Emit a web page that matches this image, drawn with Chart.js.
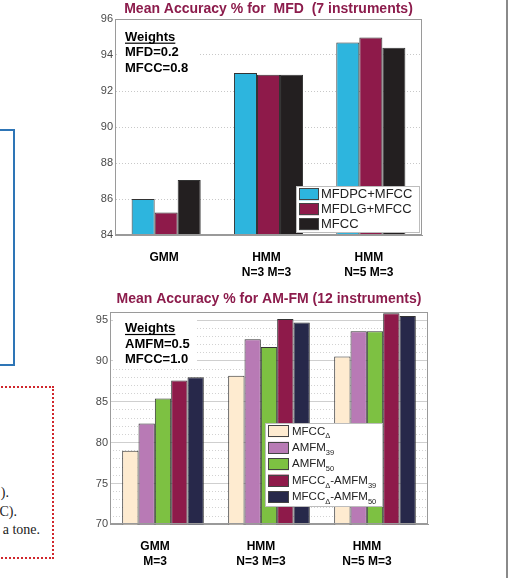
<!DOCTYPE html>
<html><head><meta charset="utf-8">
<script src="https://cdn.jsdelivr.net/npm/chart.js@4.4.0/dist/chart.umd.min.js"></script>
<style>
html,body{margin:0;padding:0;background:#fff;}
body{width:515px;height:578px;overflow:hidden;position:relative;font-family:"Liberation Sans",Arial,sans-serif;}
canvas{position:absolute;left:0;}
#c1{top:0;}
#c2{top:285px;}
.blue{position:absolute;left:-10px;top:129px;width:21px;height:233px;border:2px solid #2E75B6;}
.red{position:absolute;left:-10px;top:386px;width:60px;height:169px;border:2px dotted #D0262C;}
.pageline{position:absolute;left:506px;top:0;width:2px;height:578px;background:#8a8a8a;}
.frag{position:absolute;font-family:"Liberation Serif","DejaVu Serif",serif;font-size:14px;line-height:16px;white-space:nowrap;text-align:right;color:#222;}
</style>
</head><body>
<div class="blue"></div>
<div class="red"></div>
<div class="frag" style="right:506px;top:485px;">).</div>
<div class="frag" style="right:498px;top:504px;">C).</div>
<div class="frag" style="right:475px;top:522px;">a tone.</div>
<div class="pageline"></div>
<canvas id="c1" width="515" height="285"></canvas>
<canvas id="c2" width="515" height="293"></canvas>
<script>
// ---------- data: MFD chart ----------
const titleMFD = 'Mean Accuracy % for  MFD  (7 instruments)';
const categoriesMFD = [['GMM'], ['HMM', 'N=3 M=3'], ['HMM', 'N=5 M=3']];
const seriesMFD = ['MFDPC+MFCC', 'MFDLG+MFCC', 'MFCC'];
const mfdpcMfcc = [86.0, 93.0, 94.7];
const mfdlgMfcc = [85.25, 92.9, 94.97];
const mfccOnly = [87.05, 92.9, 94.4];
const weightsMFD = ['Weights', 'MFD=0.2', 'MFCC=0.8'];
const yTicksMFD = [84, 86, 88, 90, 92, 94, 96];

// ---------- data: AM-FM chart ----------
const titleAMFM = 'Mean Accuracy % for AM-FM (12 instruments)';
const categoriesAMFM = [['GMM', 'M=3'], ['HMM', 'N=3 M=3'], ['HMM', 'N=5 M=3']];
// label pieces: even index = normal text, odd index = subscript
const seriesAMFM = [['MFCC', 'Δ'], ['AMFM', '39'], ['AMFM', '50'], ['MFCC', 'Δ', '-AMFM', '39'], ['MFCC', 'Δ', '-AMFM', '50']];
const mfccDelta = [79.0, 88.2, 90.55];
const amfm39 = [82.35, 92.65, 93.65];
const amfm50 = [85.4, 91.7, 93.65];
const mfccDeltaAmfm39 = [87.6, 95.15, 95.85];
const mfccDeltaAmfm50 = [88.0, 94.7, 95.5];
const weightsAMFM = ['Weights', 'AMFM=0.5', 'MFCC=1.0'];
const yTicksAMFM = [70, 75, 80, 85, 90, 95];

// ---------- styling ----------
const FONT = '"Liberation Sans", Arial, sans-serif';
const TITLE_COLOR = '#8C1C4C';
const colorsMFD = ['#2DB5DE', '#8E1A4A', '#231F20'];
const colorsAMFM = ['#FEEBD0', '#B87AB5', '#7DC142', '#8E1A4A', '#27284A'];

const frameBox = {
  id: 'frameBox',
  afterDatasetsDraw(chart) {
    const a = chart.chartArea, ctx = chart.ctx;
    ctx.save();
    ctx.strokeStyle = '#9a9a9a'; ctx.lineWidth = 1;
    ctx.strokeRect(Math.round(a.left) + 0.5, Math.round(a.top) + 0.5, Math.round(a.right - a.left) - 1, Math.round(a.bottom - a.top) - 1);
    ctx.restore();
  }
};

const weightsNote = {
  id: 'weightsNote',
  beforeDatasetsDraw(chart, args, o) {
    const a = chart.chartArea, ctx = chart.ctx;
    ctx.save();
    ctx.fillStyle = '#fff';
    ctx.fillRect(a.left + o.bx, a.top + o.by, o.bw, o.bh);
    ctx.fillStyle = '#000';
    ctx.font = 'bold 13px ' + FONT;
    ctx.textBaseline = 'middle';
    o.lines.forEach((t, i) => {
      const x = a.left + o.x, y = a.top + o.ys[i];
      ctx.fillText(t, x, y);
      if (i === 0) {
        const w = ctx.measureText(t).width;
        ctx.fillRect(x, y + 5.6, w, 1.2);
      }
    });
    ctx.restore();
  }
};

const boxLegend = {
  id: 'boxLegend',
  afterDatasetsDraw(chart, args, o) {
    const a = chart.chartArea, ctx = chart.ctx;
    const x0 = Math.round(a.right - o.right - o.width), y0 = Math.round(a.bottom - o.bottom - o.height);
    ctx.save();
    ctx.fillStyle = '#fff';
    ctx.fillRect(x0, y0, o.width, o.height);
    ctx.strokeStyle = '#bdbdbd'; ctx.lineWidth = 1;
    ctx.strokeRect(x0 + 0.5, y0 + 0.5, o.width, o.height);
    chart.data.datasets.forEach((ds, i) => {
      const cy = y0 + o.first + i * o.step;
      ctx.fillStyle = ds.backgroundColor;
      ctx.fillRect(x0 + o.sx, cy - o.sh / 2, o.sw, o.sh);
      ctx.strokeStyle = '#444';
      ctx.strokeRect(x0 + o.sx + 0.5, Math.round(cy - o.sh / 2) + 0.5, o.sw - 1, o.sh - 1);
      let x = x0 + o.tx;
      ctx.fillStyle = '#222';
      ctx.textBaseline = 'middle';
      ds.parts.forEach((p, j) => {
        if (j % 2 === 0) {
          ctx.font = o.fs + 'px ' + FONT;
          ctx.fillText(p, x, cy);
        } else {
          ctx.font = o.ss + 'px ' + FONT;
          ctx.fillText(p, x, cy + o.sOff);
        }
        x += ctx.measureText(p).width;
      });
    });
    ctx.restore();
  }
};

// ---------- chart 1 ----------
const ds1 = [mfdpcMfcc, mfdlgMfcc, mfccOnly].map((d, i) => ({
  label: seriesMFD[i], parts: [seriesMFD[i]], data: d,
  backgroundColor: colorsMFD[i], borderColor: '#333', borderWidth: 1, borderSkipped: false,
  categoryPercentage: 0.675, barPercentage: 1.0
}));

new Chart(document.getElementById('c1'), {
  type: 'bar',
  data: { labels: categoriesMFD, datasets: ds1 },
  options: {
    responsive: false, animation: false, devicePixelRatio: 1,
    layout: { padding: { left: 85, right: 93, top: 0, bottom: 0 } },
    plugins: {
      legend: { display: false }, tooltip: { enabled: false },
      title: { display: true, text: titleMFD, color: TITLE_COLOR, fullSize: false,
        font: { family: FONT, size: 14, weight: 'bold', lineHeight: 1.2 }, padding: { top: 0.6, bottom: 1.6 } },
      weightsNote: { lines: weightsMFD, x: 10, ys: [18, 33, 49], bx: 3, by: 3, bw: 80, bh: 55 },
      boxLegend: { right: 3, bottom: 3, width: 123, height: 46, first: 8.3, step: 14.9, sx: 3, sw: 20, sh: 12, tx: 25, fs: 13, ss: 8, sOff: 5 }
    },
    scales: {
      x: {
        grid: { display: false }, border: { display: true, color: '#9a9a9a' },
        ticks: { color: '#000', font: { family: FONT, size: 12, weight: 'bold', lineHeight: 1.25 }, padding: 7, labelOffset: -2, maxRotation: 0 },
        afterFit(s) { s.height = 50; }
      },
      y: {
        min: 84, max: 96,
        afterBuildTicks(s) { s.ticks = yTicksMFD.map(v => ({ value: v })); },
        grid: { color: '#c8c8c8', drawTicks: false, borderDash: [1, 2] },
        border: { display: true, color: '#9a9a9a', dash: [1, 2] },
        ticks: { color: '#4a4a4a', font: { family: FONT, size: 11 }, padding: 2 },
        afterFit(s) { s.width = 30; }
      }
    }
  },
  plugins: [weightsNote, frameBox, boxLegend]
});

// ---------- chart 2 ----------
const ds2 = [mfccDelta, amfm39, amfm50, mfccDeltaAmfm39, mfccDeltaAmfm50].map((d, i) => ({
  label: seriesAMFM[i].join(''), parts: seriesAMFM[i], data: d,
  backgroundColor: colorsAMFM[i], borderColor: '#333', borderWidth: 1, borderSkipped: false,
  categoryPercentage: 0.77, barPercentage: 1.0
}));

new Chart(document.getElementById('c2'), {
  type: 'bar',
  data: { labels: categoriesAMFM, datasets: ds2 },
  options: {
    responsive: false, animation: false, devicePixelRatio: 1,
    layout: { padding: { left: 80, right: 87, top: 0, bottom: 0 } },
    plugins: {
      legend: { display: false }, tooltip: { enabled: false },
      title: { display: true, text: titleAMFM, color: TITLE_COLOR, fullSize: false,
        font: { family: FONT, size: 14, weight: 'bold', lineHeight: 1.2 }, padding: { top: 5.6, bottom: 4.6 } },
      weightsNote: { lines: weightsAMFM, x: 15, ys: [16.3, 32.3, 47], bx: 3, by: 2, bw: 84, bh: 54 },
      boxLegend: { right: 46, bottom: 18, width: 117, height: 83, first: 8.4, step: 16.4, sx: 3, sw: 21, sh: 12, tx: 27, fs: 11.5, ss: 7.5, sOff: 5 }
    },
    scales: {
      x: {
        grid: { display: false }, border: { display: true, color: '#9a9a9a' },
        ticks: { color: '#000', font: { family: FONT, size: 12, weight: 'bold', lineHeight: 1.25 }, padding: 6.5, labelOffset: -8, maxRotation: 0 },
        afterFit(s) { s.height = 53.7; }
      },
      yMinor: {
        position: 'left', min: 70, max: 96,
        ticks: { display: false, stepSize: 1 },
        grid: { color: '#d2d2d2', drawTicks: false, borderDash: [1, 2] },
        border: { display: false, dash: [1, 2] },
        afterFit(s) { s.width = 0; }
      },
      y: {
        position: 'left', min: 70, max: 96,
        afterBuildTicks(s) { s.ticks = yTicksAMFM.map(v => ({ value: v })); },
        grid: { color: '#cfcfcf', drawTicks: false },
        border: { display: true, color: '#9a9a9a' },
        ticks: { color: '#4a4a4a', font: { family: FONT, size: 11 }, padding: 2 },
        afterFit(s) { s.width = 30; }
      }
    }
  },
  plugins: [weightsNote, frameBox, boxLegend]
});
</script>
</body></html>
